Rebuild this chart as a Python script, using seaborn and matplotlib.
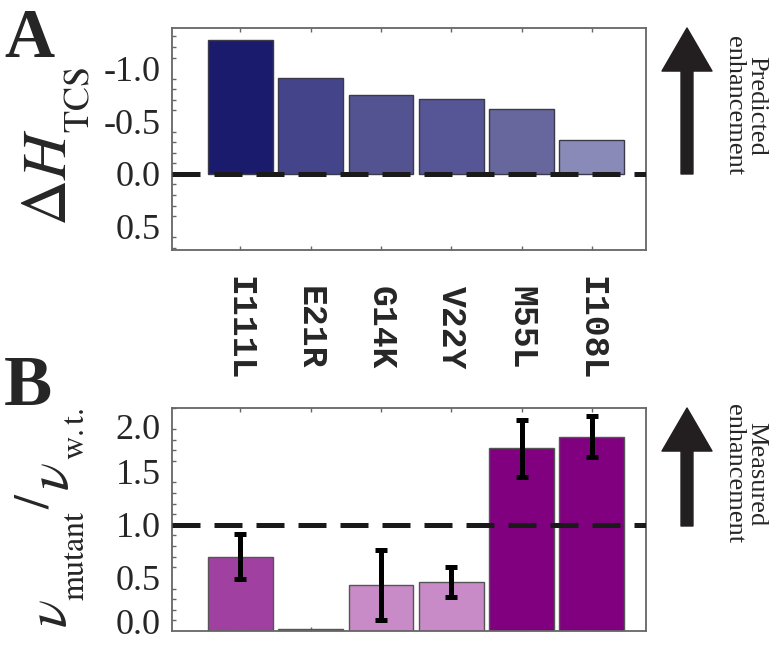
import seaborn as sns
import pandas as pd
import matplotlib.pyplot as plt
import matplotlib.transforms as mtransforms
import numpy as np
from matplotlib.ticker import MultipleLocator

# data
mutants = ["I111L", "E21R", "G14K", "V22Y", "M55L", "I108L"]
delta_h = [-1.27, -0.91, -0.75, -0.71, -0.61, -0.32]
rate_ratio = [0.70, 0.015, 0.43, 0.46, 1.72, 1.83]
rate_err = [0.21, 0.0, 0.33, 0.14, 0.27, 0.19]

colors_a = ["#1b1b6e", "#44448a", "#535391", "#565696", "#67679d", "#8a8ab8"]
colors_b = ["#a040a0", "#707070", "#c88bc8", "#c88bc8", "#800080", "#800080"]

sns.set_style("white")
plt.rcParams["font.family"] = ["Liberation Serif", "DejaVu Serif"]
plt.rcParams["mathtext.fontset"] = "stix"
plt.rcParams["axes.unicode_minus"] = False

dfA = pd.DataFrame({"mutant": mutants, "dH": delta_h})
dfB = pd.DataFrame({"mutant": mutants, "ratio": rate_ratio, "err": rate_err})

W, H = 777, 646
fig = plt.figure(figsize=(W / 100, H / 100), dpi=100)

def px_axes(l, t, r, b):
    return fig.add_axes([l / W, 1 - b / H, (r - l) / W, (b - t) / H])

def px_text(x, y, s, **kw):
    return fig.text(x / W, 1 - y / H, s, **kw)

axA = px_axes(172, 28, 646, 250)
axB = px_axes(172, 408, 646, 631)

sns.barplot(data=dfA, x="mutant", y="dH", hue="mutant", palette=colors_a, saturation=1,
            legend=False, width=0.92, edgecolor="#3a3a4a", linewidth=1.0, ax=axA)
sns.barplot(data=dfB, x="mutant", y="ratio", hue="mutant", palette=colors_b, saturation=1,
            legend=False, width=0.92, edgecolor="#555555", linewidth=1.0, ax=axB)
mask = dfB["err"] > 0
axB.errorbar(np.arange(len(mutants))[mask], dfB["ratio"][mask], yerr=dfB["err"][mask],
             fmt="none", ecolor="black", elinewidth=3.6, capsize=4, capthick=3.6, zorder=5)

axA.set_ylim(0.72, -1.38)
axB.set_ylim(0, 2.1)
for ax in (axA, axB):
    ax.set_xlim(-0.97, 5.77)
    ax.set_xlabel("")
    ax.set_ylabel("")
    for s in ax.spines.values():
        s.set_color("#666666")
        s.set_linewidth(1.3)
    ax.yaxis.set_major_locator(MultipleLocator(0.5))
    ax.yaxis.set_minor_locator(MultipleLocator(0.1))
    ax.tick_params(axis="y", which="major", direction="in", length=6, width=1,
                   color="#666666", labelsize=26, pad=8)
    ax.tick_params(axis="y", which="minor", direction="in", length=3, width=1,
                   color="#666666", left=True)
    ax.tick_params(axis="x", direction="in", length=3, width=1, color="#666666",
                   top=True, bottom=True)
    ax.yaxis.set_major_formatter(plt.FormatStrFormatter("%.1f"))

axA.axhline(0, color="#1a1a1a", lw=3.6, dashes=(5.6, 2.8), zorder=4)
axB.axhline(1, color="#1a1a1a", lw=3.6, dashes=(5.6, 2.8), zorder=4)

axA.set_xticks(range(len(mutants)))
axA.set_xticklabels(mutants, rotation=270, family="Liberation Mono",
                    fontweight="bold", fontsize=25, va="center", ha="center")
axA.tick_params(axis="x", pad=56)
axB.set_xticks(range(len(mutants)))
axB.set_xticklabels([])

# nudge the end labels of panel B inwards, as in the original
fig.canvas.draw()
for tick, v in zip(axB.yaxis.get_major_ticks(), axB.get_yticks()):
    dy = 0
    if np.isclose(v, 0.0):
        dy = 10
    elif np.isclose(v, 2.0):
        dy = -8
    if dy:
        off = mtransforms.ScaledTranslation(0, dy / 100, fig.dpi_scale_trans)
        tick.label1.set_transform(tick.label1.get_transform() + off)

# axis titles (pieces placed by hand to get the sub/superscript sizes)
lab = dict(rotation=90, ha="center", va="center")
px_text(51, 177, r"$\Delta H$", fontsize=46, **lab)
px_text(80, 100, r"$\mathrm{TCS}$", fontsize=26, **lab)
px_text(52, 614, r"$\nu$", fontsize=42, **lab)
px_text(77, 556, r"$\mathrm{mutant}$", fontsize=23, **lab)
px_text(36, 501, r"$\mathrm{/}$", fontsize=36, **lab)
px_text(54, 477, r"$\nu$", fontsize=42, **lab)
px_text(77, 434, r"$\mathrm{w.t.}$", fontsize=23, **lab)

# panel letters
px_text(4, 57, "A", fontsize=50, fontweight="bold", ha="left", va="baseline")
px_text(4, 405, "B", fontsize=52, fontweight="bold", ha="left", va="baseline")

# enhancement arrows
arrow_kw = dict(arrowstyle="simple,head_length=3.1,head_width=3.6,tail_width=0.86",
                color="#231f20", shrinkA=0, shrinkB=0, mutation_scale=10)
for tip, tail in [(28, 174), (408, 526)]:
    axA.annotate("", xy=(687 / W, 1 - tip / H), xytext=(687 / W, 1 - tail / H),
                 xycoords="figure fraction", textcoords="figure fraction",
                 arrowprops=arrow_kw, annotation_clip=False)
px_text(745, 106, "Predicted\nenhancement", rotation=270, fontsize=19,
        ha="center", va="center", linespacing=1.0)
px_text(745, 474, "Measured\nenhancement", rotation=270, fontsize=19,
        ha="center", va="center", linespacing=1.0)

fig.savefig("out.png", dpi=100)
